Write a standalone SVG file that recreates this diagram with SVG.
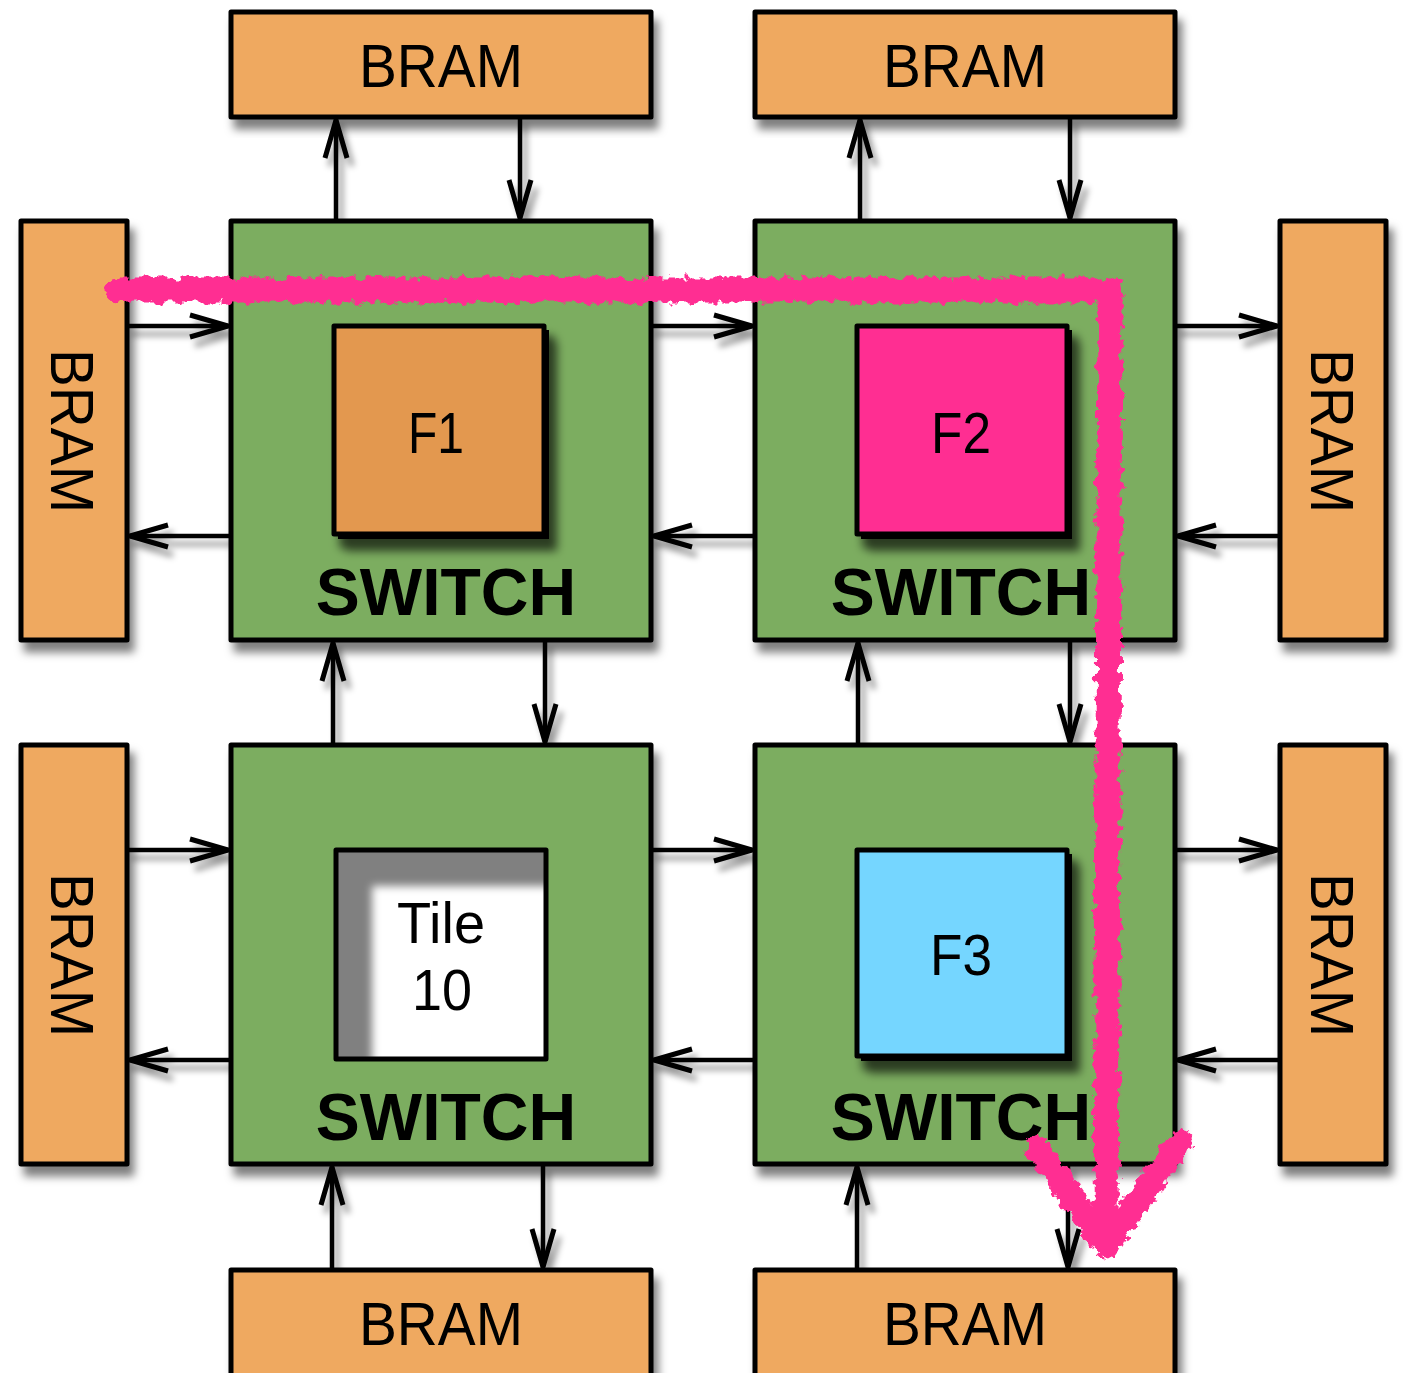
<svg xmlns="http://www.w3.org/2000/svg" width="1403" height="1373" viewBox="0 0 1403 1373">
<defs>
<style>
.bram{fill:#EFA960;stroke:#000;stroke-width:5;stroke-linejoin:round}
.sw{fill:#7BAD60;stroke:#000;stroke-width:5;stroke-linejoin:round}
.fb{stroke:#000;stroke-width:5;stroke-linejoin:round}
.t{font-family:"Liberation Sans",Arial,sans-serif;fill:#000;text-anchor:middle}
.bt{font-size:61px}
.st{font-size:66px;font-weight:bold}
.ft{font-size:57px}
.c{fill:none;stroke:#000;stroke-width:4.5}
.pink{fill:none;stroke:#FF2F92;stroke-width:25;stroke-linejoin:round;stroke-linecap:round}
</style>
<filter id="sh" x="-20%" y="-20%" width="140%" height="140%">
<feDropShadow dx="5" dy="10" stdDeviation="4" flood-color="#000" flood-opacity="0.5"/>
</filter>
<filter id="shd" x="-20%" y="-20%" width="140%" height="140%">
<feDropShadow dx="8" dy="12" stdDeviation="5" flood-color="#000" flood-opacity="0.65"/>
</filter>
<filter id="ash" x="-50%" y="-50%" width="200%" height="200%">
<feDropShadow dx="5" dy="8" stdDeviation="3" flood-color="#000" flood-opacity="0.4"/>
</filter>
<filter id="rough" x="-5%" y="-5%" width="110%" height="110%">
<feTurbulence type="fractalNoise" baseFrequency="0.12" numOctaves="3" seed="4" result="n"/>
<feDisplacementMap in="SourceGraphic" in2="n" scale="14" xChannelSelector="R" yChannelSelector="G"/>
</filter>
<filter id="blur"><feGaussianBlur stdDeviation="4"/></filter>
<clipPath id="tclip"><rect x="336" y="850" width="210" height="209"/></clipPath>
<marker id="ah" markerUnits="userSpaceOnUse" viewBox="-44 -16 48 32" refX="0" refY="0" markerWidth="48" markerHeight="32" orient="auto">
<path d="M-38,-11 L0,0 L-38,11" fill="none" stroke="#000" stroke-width="5"/>
</marker>
</defs>

<g id="connectors" filter="url(#ash)">
<line class="c" x1="336" y1="221" x2="336" y2="120" marker-end="url(#ah)"/>
<line class="c" x1="520" y1="117" x2="520" y2="218" marker-end="url(#ah)"/>
<line class="c" x1="860" y1="221" x2="860" y2="120" marker-end="url(#ah)"/>
<line class="c" x1="1070" y1="117" x2="1070" y2="218" marker-end="url(#ah)"/>
<line class="c" x1="333" y1="745" x2="333" y2="643" marker-end="url(#ah)"/>
<line class="c" x1="545" y1="640" x2="545" y2="742" marker-end="url(#ah)"/>
<line class="c" x1="858" y1="745" x2="858" y2="643" marker-end="url(#ah)"/>
<line class="c" x1="1070" y1="640" x2="1070" y2="742" marker-end="url(#ah)"/>
<line class="c" x1="332" y1="1270" x2="332" y2="1167" marker-end="url(#ah)"/>
<line class="c" x1="543" y1="1164" x2="543" y2="1267" marker-end="url(#ah)"/>
<line class="c" x1="857" y1="1270" x2="857" y2="1167" marker-end="url(#ah)"/>
<line class="c" x1="1068" y1="1164" x2="1068" y2="1267" marker-end="url(#ah)"/>
<line class="c" x1="127" y1="326" x2="228" y2="326" marker-end="url(#ah)"/>
<line class="c" x1="231" y1="536" x2="130" y2="536" marker-end="url(#ah)"/>
<line class="c" x1="651" y1="326" x2="752" y2="326" marker-end="url(#ah)"/>
<line class="c" x1="755" y1="536" x2="654" y2="536" marker-end="url(#ah)"/>
<line class="c" x1="1175" y1="326" x2="1277" y2="326" marker-end="url(#ah)"/>
<line class="c" x1="1280" y1="536" x2="1178" y2="536" marker-end="url(#ah)"/>
<line class="c" x1="127" y1="850" x2="228" y2="850" marker-end="url(#ah)"/>
<line class="c" x1="231" y1="1060" x2="130" y2="1060" marker-end="url(#ah)"/>
<line class="c" x1="651" y1="850" x2="752" y2="850" marker-end="url(#ah)"/>
<line class="c" x1="755" y1="1060" x2="654" y2="1060" marker-end="url(#ah)"/>
<line class="c" x1="1175" y1="850" x2="1277" y2="850" marker-end="url(#ah)"/>
<line class="c" x1="1280" y1="1060" x2="1178" y2="1060" marker-end="url(#ah)"/>
</g>

<g id="bram-top-left" filter="url(#sh)">
<rect class="bram" x="231" y="12" width="420" height="105"/>
<text class="t bt" x="441" y="87" textLength="164" lengthAdjust="spacingAndGlyphs">BRAM</text>
</g>
<g id="bram-top-right" filter="url(#sh)">
<rect class="bram" x="755" y="12" width="420" height="105"/>
<text class="t bt" x="965" y="87" textLength="164" lengthAdjust="spacingAndGlyphs">BRAM</text>
</g>
<g id="bram-bottom-left" filter="url(#sh)">
<rect class="bram" x="231" y="1270" width="420" height="110"/>
<text class="t bt" x="441" y="1345" textLength="164" lengthAdjust="spacingAndGlyphs">BRAM</text>
</g>
<g id="bram-bottom-right" filter="url(#sh)">
<rect class="bram" x="755" y="1270" width="420" height="110"/>
<text class="t bt" x="965" y="1345" textLength="164" lengthAdjust="spacingAndGlyphs">BRAM</text>
</g>
<g id="bram-left-top" filter="url(#sh)">
<rect class="bram" x="21" y="221" width="106" height="419"/>
<text class="t bt" transform="translate(51,431) rotate(90)" textLength="164" lengthAdjust="spacingAndGlyphs">BRAM</text>
</g>
<g id="bram-left-bottom" filter="url(#sh)">
<rect class="bram" x="21" y="745" width="106" height="419"/>
<text class="t bt" transform="translate(51,955) rotate(90)" textLength="164" lengthAdjust="spacingAndGlyphs">BRAM</text>
</g>
<g id="bram-right-top" filter="url(#sh)">
<rect class="bram" x="1280" y="221" width="106" height="419"/>
<text class="t bt" transform="translate(1311,431) rotate(90)" textLength="164" lengthAdjust="spacingAndGlyphs">BRAM</text>
</g>
<g id="bram-right-bottom" filter="url(#sh)">
<rect class="bram" x="1280" y="745" width="106" height="419"/>
<text class="t bt" transform="translate(1311,955) rotate(90)" textLength="164" lengthAdjust="spacingAndGlyphs">BRAM</text>
</g>

<g id="switch-top-left">
<rect class="sw" x="231" y="221" width="420" height="419" filter="url(#sh)"/>
<g filter="url(#shd)">
<rect x="338" y="330" width="211" height="209" fill="#000"/>
<rect class="fb" x="334" y="326" width="210" height="208" fill="#E3984F"/>
</g>
<text class="t ft" x="436" y="453" textLength="56" lengthAdjust="spacingAndGlyphs">F1</text>
<text class="t st" x="446" y="615">SWITCH</text>
</g>
<g id="switch-top-right">
<rect class="sw" x="755" y="221" width="420" height="419" filter="url(#sh)"/>
<g filter="url(#shd)">
<rect x="861" y="330" width="211" height="209" fill="#000"/>
<rect class="fb" x="857" y="326" width="210" height="208" fill="#FF2F92"/>
</g>
<text class="t ft" x="961" y="453" textLength="60" lengthAdjust="spacingAndGlyphs">F2</text>
<text class="t st" x="961" y="615">SWITCH</text>
</g>
<g id="switch-bottom-left">
<rect class="sw" x="231" y="745" width="420" height="419" filter="url(#sh)"/>
<g clip-path="url(#tclip)">
<rect x="336" y="850" width="210" height="209" fill="#808080"/>
<rect x="372" y="886" width="200" height="200" fill="#fff" filter="url(#blur)"/>
</g>
<rect class="fb" x="336" y="850" width="210" height="209" fill="none"/>
<text class="t ft" x="441" y="943" textLength="88" lengthAdjust="spacingAndGlyphs">Tile</text>
<text class="t ft" x="442" y="1010" textLength="60" lengthAdjust="spacingAndGlyphs">10</text>
<text class="t st" x="446" y="1140">SWITCH</text>
</g>
<g id="switch-bottom-right">
<rect class="sw" x="755" y="745" width="420" height="419" filter="url(#sh)"/>
<g filter="url(#shd)">
<rect x="861" y="854" width="211" height="207" fill="#000"/>
<rect class="fb" x="857" y="850" width="210" height="206" fill="#75D6FF"/>
</g>
<text class="t ft" x="961" y="975" textLength="62" lengthAdjust="spacingAndGlyphs">F3</text>
<text class="t st" x="961" y="1140">SWITCH</text>
</g>

<g id="path-highlight" filter="url(#rough)">
<path class="pink" d="M118,290 L1110,290 L1106,1240"/>
<path class="pink" d="M1038,1148 L1106,1246 L1180,1142"/>
</g>
</svg>
